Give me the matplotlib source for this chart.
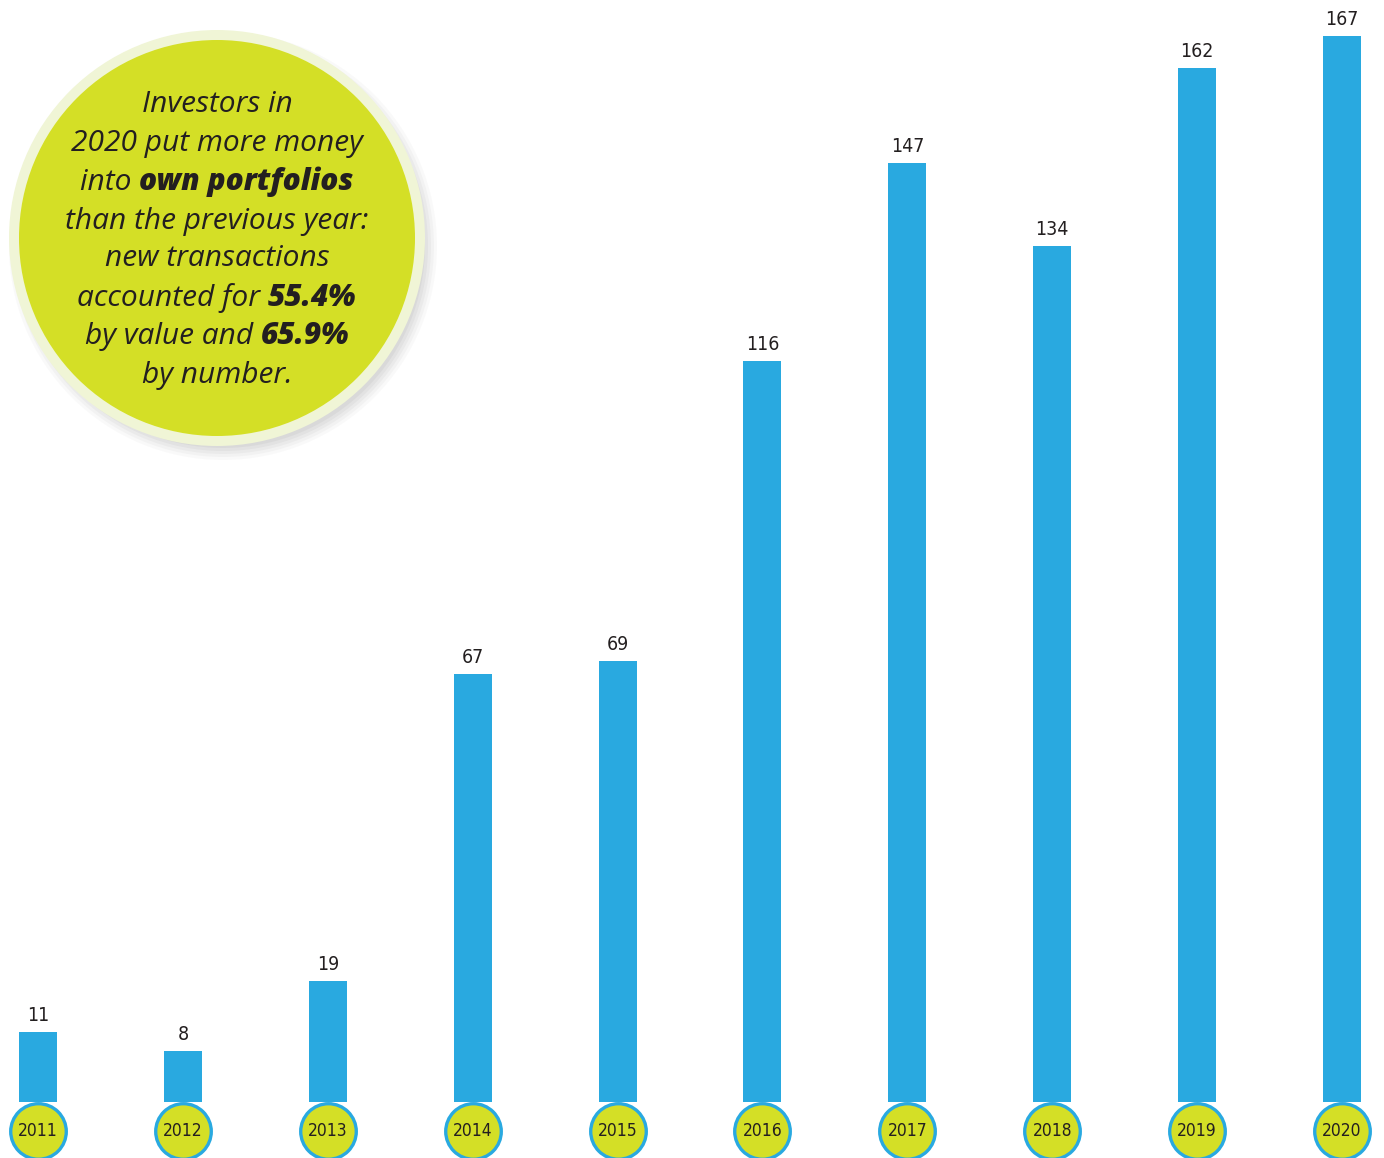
import matplotlib
matplotlib.use("Agg")
import matplotlib.pyplot as plt
from matplotlib.patches import Circle
from matplotlib.offsetbox import TextArea, HPacker, AnnotationBbox

years = ["2011", "2012", "2013", "2014", "2015", "2016", "2017", "2018", "2019", "2020"]
deals = [11, 8, 19, 67, 69, 116, 147, 134, 162, 167]

note_lines = [
    [("Investors in", False)],
    [("2020 put more money", False)],
    [("into ", False), ("own portfolios", True)],
    [("than the previous year:", False)],
    [("new transactions", False)],
    [("accounted for ", False), ("55.4%", True)],
    [("by value and ", False), ("65.9%", True)],
    [("by number.", False)],
]

BAR_BLUE = "#29a9e0"
LIME = "#d4df26"
RING = "#f0f5d6"
TEXT_DARK = "#231f20"

W, H = 1384, 1158
fig = plt.figure(figsize=(W / 100, H / 100), dpi=100)

# bar chart, axes covering whole figure
ax = fig.add_axes([0, 0, 1, 1])
step = 144.9
px_per_unit = 6.385
base_px = 1102
ax.set_xlim(-38 / step, 9 + (W - 1342) / step)
ax.set_ylim(-(H - base_px) / px_per_unit, base_px / px_per_unit)
ax.axis("off")

x = list(range(len(years)))
ax.bar(x, deals, width=38 / step, color=BAR_BLUE, zorder=2)
for xi, v in zip(x, deals):
    ax.text(xi, v + 1.1, str(v), ha="center", va="bottom", fontsize=14,
            family="DejaVu Sans", fontstretch="condensed",
            color=TEXT_DARK, zorder=3)

# year badges under the bars
badge_y = -(1131 - base_px) / px_per_unit
ax.scatter(x, [badge_y] * len(x), s=1600, color=LIME, edgecolor=BAR_BLUE,
           linewidth=2.4, zorder=4, clip_on=False)
for xi, yr in zip(x, years):
    ax.text(xi, badge_y, yr, ha="center", va="center", fontsize=12.5,
            family="DejaVu Sans", fontstretch="condensed",
            color=TEXT_DARK, zorder=5)

# callout bubble in pixel coordinates
ov = fig.add_axes([0, 0, 1, 1])
ov.set_xlim(0, W)
ov.set_ylim(H, 0)
ov.axis("off")
cx, cy = 217, 238
for i, a in enumerate([0.04, 0.05, 0.06, 0.07, 0.08]):
    ov.add_patch(Circle((cx + 6, cy + 8), 214 - i * 3, color="#7a7a7a",
                        alpha=a, lw=0, zorder=1))
ov.add_patch(Circle((cx, cy), 208, color=RING, lw=0, zorder=2))
ov.add_patch(Circle((cx, cy), 198, color=LIME, lw=0, zorder=3))

line_y = [105, 144, 182, 221, 259, 298, 336, 375]
for segs, ly in zip(note_lines, line_y):
    parts = []
    for txt, bold in segs:
        parts.append(TextArea(txt, textprops=dict(
            fontsize=21.5, family="Open Sans", style="italic",
            fontstretch="normal",
            weight="extra bold" if bold else "normal", color=TEXT_DARK)))
    box = HPacker(children=parts, align="baseline", pad=0, sep=0)
    ab = AnnotationBbox(box, (cx, ly), xycoords="data", frameon=False,
                        box_alignment=(0.5, 0.5), pad=0, zorder=4)
    ov.add_artist(ab)

fig.savefig("out.png", dpi=100)
